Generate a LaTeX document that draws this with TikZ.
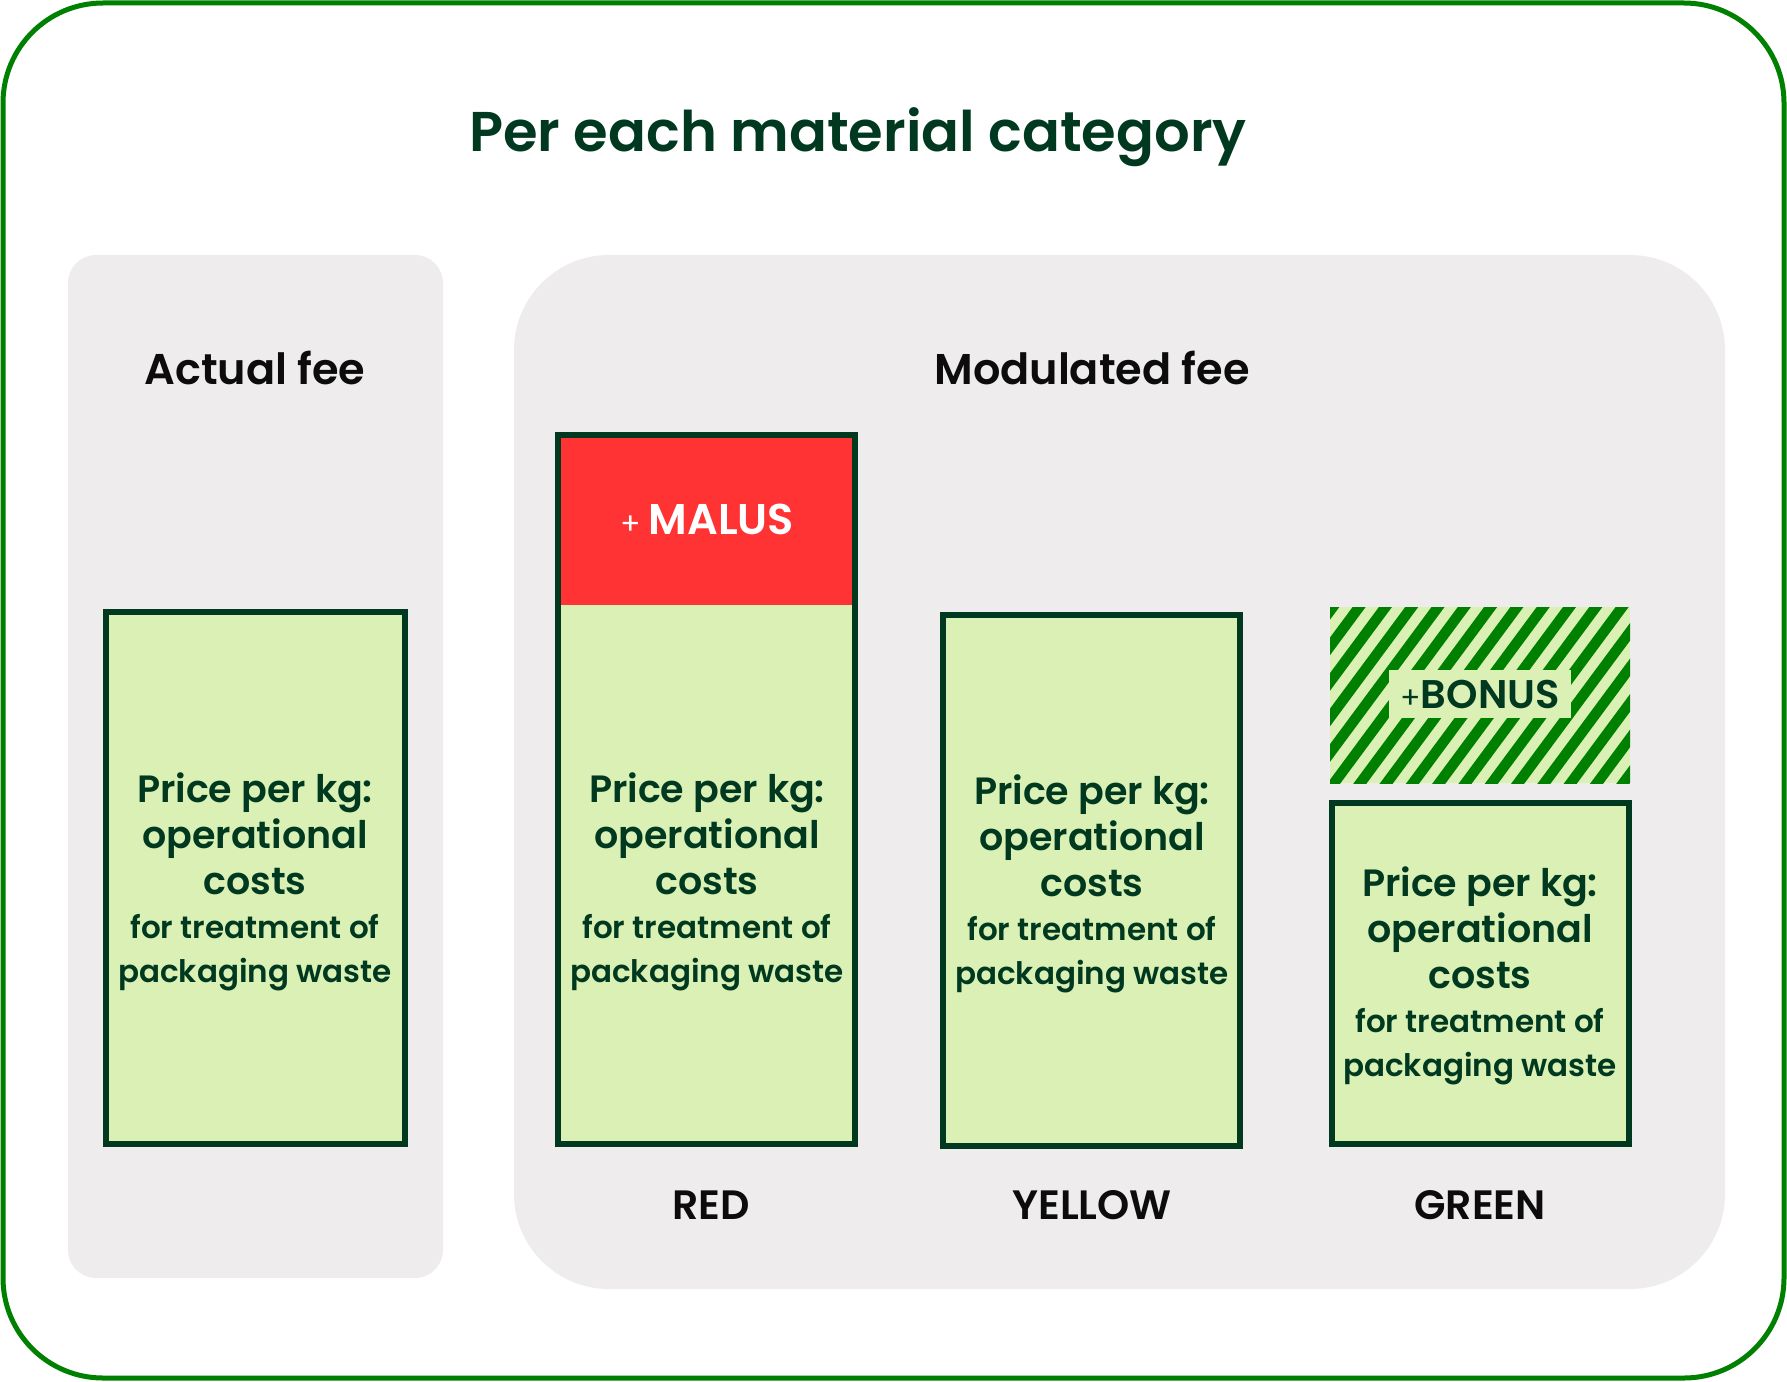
\documentclass[tikz,border=0pt]{standalone}
\usepackage{fontspec}
\setmainfont{Poppins}[BoldFont={Poppins SemiBold}]
\definecolor{framegreen}{RGB}{0,128,0}
\definecolor{darkgreen}{RGB}{0,57,32}
\definecolor{panelgrey}{RGB}{238,236,237}
\definecolor{lightgreen}{RGB}{218,240,180}
\definecolor{malusred}{RGB}{255,51,51}
\definecolor{ink}{RGB}{12,12,12}
\tikzset{
  panel/.style={fill=panelgrey, draw=none},
  feebox/.style={draw=darkgreen, line width=6pt, fill=lightgreen},
  boxtext/.style={align=center, text=darkgreen, font=\bfseries\fontsize{38}{46}\selectfont, inner sep=0pt},
  headtext/.style={text=ink, font=\bfseries\fontsize{43}{46}\selectfont, inner sep=0pt},
  cattext/.style={text=ink, font=\bfseries\fontsize{41}{44}\selectfont, inner sep=0pt},
}
\newcommand{\pricetext}{Price per kg:\\operational\\costs\\[-2pt]{\fontsize{31}{46}\selectfont for treatment of}\\[-2pt]{\fontsize{31}{46}\selectfont packaging waste}}
\begin{document}
\begin{tikzpicture}[x=1pt,y=-1pt]
\useasboundingbox (0,0) rectangle (1787,1381);
% outer frame
\draw[framegreen, line width=5pt, rounded corners=100pt] (3,3) rectangle (1784,1378);
% title
\node[text=darkgreen, font=\bfseries\fontsize{56}{66}\selectfont, inner sep=0pt] (title) at (858,137) {Per each material category};
% panels
\fill[panel, rounded corners=28pt] (68,255) rectangle (443,1278);
\fill[panel, rounded corners=95pt] (514,255) rectangle (1725,1289);
\node[headtext] (actualhead) at (255,368) {Actual fee};
\node[headtext] (modhead) at (1092,368) {Modulated fee};
% actual box
\draw[feebox] (106,612) rectangle (405,1144);
\node[boxtext] (actualtxt) at (255,882) {\pricetext};
% red box
\draw[feebox] (558,435) rectangle (855,1144);
\fill[malusred] (561,438) rectangle (852,605);
\draw[darkgreen, line width=6pt] (558,435) rectangle (855,1144);
\node[text=white, inner sep=0pt] (malus) at (707,519) {{\fontsize{30}{30}\selectfont +}\hspace{8pt}{\bfseries\fontsize{43}{43}\selectfont MALUS}};
\node[boxtext] (redtxt) at (707,882) {\pricetext};
% yellow box
\draw[feebox] (943,615) rectangle (1240,1146);
\node[boxtext] (yellowtxt) at (1092,884) {\pricetext};
% bonus hatch
\begin{scope}
\clip (1330,607) rectangle (1630,783);
\fill[lightgreen] (1330,607) rectangle (1630,783);
\foreach \k in {0,...,20} {
  \draw[framegreen, line width=10.5pt] (1190+\k*26.3,800) -- (1190+\k*26.3+0.74*210,590);
}
\end{scope}
\fill[lightgreen] (1389,670) rectangle (1571,718);
\node[text=darkgreen, inner sep=0pt] (bonus) at (1480,694) {{\fontsize{30}{30}\selectfont +}{\bfseries\fontsize{40}{40}\selectfont BONUS}};
% green box
\draw[feebox] (1332,803) rectangle (1629,1144);
\node[boxtext] (greentxt) at (1480,976) {\pricetext};
% category labels
\node[cattext] (redlab) at (711,1205) {RED};
\node[cattext] (yellowlab) at (1092,1205) {YELLOW};
\node[cattext] (greenlab) at (1480,1205) {GREEN};
\end{tikzpicture}
\end{document}
